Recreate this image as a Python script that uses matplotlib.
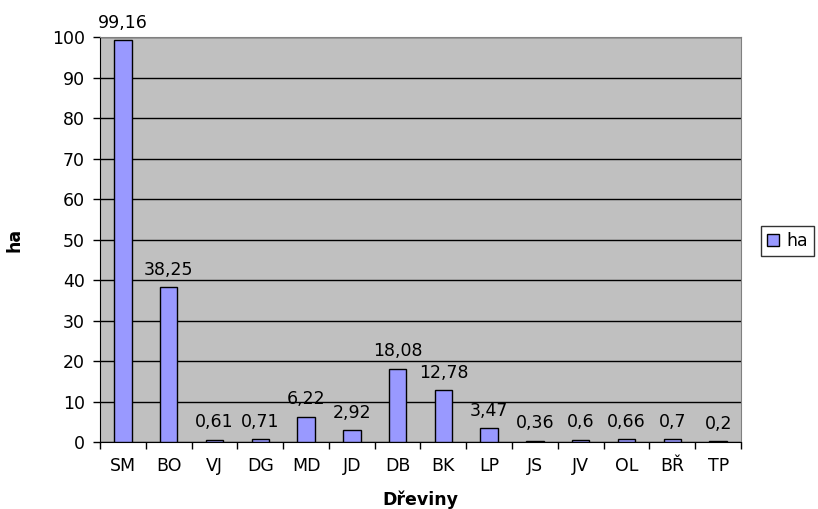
import matplotlib
matplotlib.use("Agg")
import matplotlib.pyplot as plt
from matplotlib.patches import Patch
import numpy as np

plt.rcParams['font.family'] = ['DejaVu Sans']

categories = ["SM", "BO", "VJ", "DG", "MD", "JD", "DB", "BK", "LP", "JS", "JV", "OL", "BŘ", "TP"]
values = [99.16, 38.25, 0.61, 0.71, 6.22, 2.92, 18.08, 12.78, 3.47, 0.36, 0.6, 0.66, 0.7, 0.2]
value_labels = ["99,16", "38,25", "0,61", "0,71", "6,22", "2,92", "18,08", "12,78", "3,47", "0,36", "0,6", "0,66", "0,7", "0,2"]
yticks = list(range(0, 101, 10))

FS = 12.5

fig = plt.figure(figsize=(8.18, 5.09), dpi=100)
ax = fig.add_axes([0.1222, 0.1316, 0.7837, 0.7957])
ax.set_facecolor("#C0C0C0")

x = np.arange(len(categories))
ax.bar(x, values, width=0.38, color="#9999FF", edgecolor="black", linewidth=1.0, zorder=3)

for xi, v, lab in zip(x, values, value_labels):
    ax.annotate(lab, (xi, v), xytext=(0, 6), textcoords="offset points",
                ha="center", va="bottom", fontsize=FS, zorder=4)

ax.set_xlim(-0.5, len(categories) - 0.5)
ax.set_ylim(0, 100)
ax.set_yticks(yticks)
ax.set_yticklabels([str(t) for t in yticks], fontsize=FS)
ax.yaxis.grid(True, color="black", linewidth=1.0, zorder=1)
ax.set_axisbelow(True)

ax.set_xticks(np.arange(-0.5, len(categories), 1.0))
ax.set_xticklabels([])
ax.set_xticks(x, minor=True)
ax.set_xticklabels(categories, minor=True, fontsize=FS)
ax.tick_params(axis="x", which="minor", length=0, pad=11)
ax.tick_params(axis="x", which="major", length=5, direction="out", width=1)
ax.tick_params(axis="y", length=5, direction="out", width=1, pad=6)

for side in ("top", "right"):
    ax.spines[side].set_color("#808080")
for side in ("left", "bottom"):
    ax.spines[side].set_color("black")

ax.set_xlabel("Dřeviny", fontsize=FS, fontweight="bold", labelpad=11)
ax.set_ylabel("ha", fontsize=FS, fontweight="bold", labelpad=20)

handle = Patch(facecolor="#9999FF", edgecolor="black", linewidth=1.0)
leg = fig.legend([handle], ["ha"], loc="center left", bbox_to_anchor=(0.92, 0.527),
                 fontsize=FS, frameon=True, fancybox=False, handlelength=0.7,
                 handleheight=0.7, handletextpad=0.4, borderpad=0.35)
leg.get_frame().set_edgecolor("black")
leg.get_frame().set_linewidth(1.0)

fig.savefig("out.png", dpi=100)
